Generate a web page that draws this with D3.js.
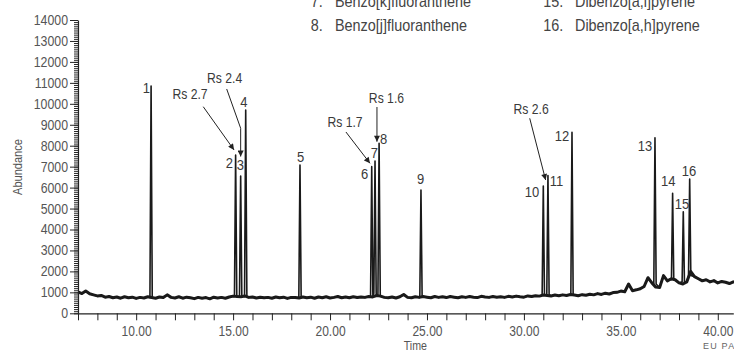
<!DOCTYPE html>
<html>
<head>
<meta charset="utf-8">
<script src="https://cdn.jsdelivr.net/npm/d3@7/dist/d3.min.js"></script>
<style>
  html, body { margin: 0; padding: 0; background: #fff; }
  svg { display: block; }
  text { font-family: "Liberation Sans", Arial, sans-serif; }
</style>
</head>
<body>
<div id="chart"></div>
<script>
// chromatogram baseline, sampled every 0.2 min starting at 7.0 min (abundance)
const baseStart = 7.0;
const baseStep = 0.2;
const baseline = [
  1020, 940, 1060, 930, 880, 830, 850, 770, 800, 740,
  780, 720, 790, 740, 770, 710, 760, 730, 790, 750,
  720, 780, 750, 880, 760, 730, 790, 720, 770, 740,
  700, 760, 720, 750, 690, 770, 730, 760, 720, 780,
  820, 800, 790, 830, 760, 780, 730, 770, 740, 760,
  720, 780, 740, 770, 710, 760, 750, 730, 780, 740,
  770, 720, 780, 740, 790, 730, 760, 800, 740, 780,
  740, 790, 750, 780, 760, 800, 780, 850, 820, 760,
  740, 780, 730, 790, 900, 760, 740, 790, 760, 800,
  770, 740, 800, 760, 790, 750, 800, 770, 740, 790,
  760, 800, 770, 750, 810, 780, 760, 800, 770, 790,
  760, 810, 780, 820, 790, 770, 830, 800, 840, 820,
  870, 850, 830, 870, 840, 880, 850, 900, 870, 840,
  890, 860, 910, 880, 940, 900, 960, 920, 990, 1000,
  1060, 1030, 1400, 1080, 1120, 1170, 1280, 1700, 1450, 1250,
  1230, 1800, 1550, 1650, 1600, 1450, 1400, 1500, 2000, 1750,
  1650, 1550, 1600, 1500, 1560, 1450, 1520, 1480, 1420, 1500,
  1460
];

// peaks
const peakNo    = [1, 2, 3, 4, 5, 6, 7, 8, 9, 10, 11, 12, 13, 14, 15, 16];
const peakTime  = [10.77, 15.13, 15.39, 15.65, 18.45, 22.15, 22.32, 22.53, 24.69, 31.0, 31.24, 32.48, 36.76, 37.67, 38.22, 38.55];
const peakTop   = [10850, 7556, 6554, 9704, 7079, 7000, 7270, 8115, 5885, 6076, 6580, 8640, 8382, 5728, 4850, 6411];
const peakFoot  = [750, 800, 820, 800, 750, 780, 950, 900, 780, 860, 900, 880, 1400, 1600, 1500, 1800];
const labelTime = [10.53, 14.81, 15.38, 15.56, 18.48, 21.78, 22.29, 22.76, 24.67, 30.42, 31.68, 31.97, 36.25, 37.44, 38.15, 38.52];
const labelVal  = [10754, 7174, 7079, 10086, 7461, 6673, 7675, 8320, 6411, 5790, 6315, 8463, 7986, 6315, 5217, 6793];

// resolution annotations
const rsText     = ["Rs 2.7", "Rs 2.4", "Rs 1.7", "Rs 1.6", "Rs 2.6"];
const rsTextTime = [12.78, 14.56, 20.77, 22.91, 30.37];
const rsTextVal  = [10444, 11208, 9107, 10277, 9728];
const rsArrows = [
  [[13.46, 9862], [15.05, 7795]],
  [[14.67, 10707], [15.39, 8831], [15.39, 7484]],
  [[20.82, 8654], [22.06, 7160]],
  [[22.42, 9847], [22.42, 8191]],
  [[30.30, 9308], [31.12, 6363]]
];

// legend fragment (top of figure, clipped)
const legendNo   = ["7.", "8.", "15.", "16."];
const legendName = ["Benzo[k]fluoranthene", "Benzo[j]fluoranthene", "Dibenzo[a,i]pyrene", "Dibenzo[a,h]pyrene"];

// axes
const yMajorTicks = [0, 1000, 2000, 3000, 4000, 5000, 6000, 7000, 8000, 9000, 10000, 11000, 12000, 13000, 14000];
const yMinorTicks = d3.range(0, 14001, 100);
const xTicks = d3.range(7, 41, 1);
const xLabelTicks = [10, 15, 20, 25, 30, 35, 40];

const width = 734, height = 352;
const svg = d3.select("#chart").append("svg")
  .attr("width", width).attr("height", height);

const x = d3.scaleLinear().domain([7, 40.8]).range([78, 733.3]);
const y = d3.scaleLinear().domain([0, 14000]).range([313.3, 20]);

// squeeze text horizontally to mimic the condensed typeface
function condense(sel, s) {
  sel.each(function () {
    const t = d3.select(this);
    const ax = +t.attr("x") || 0;
    t.attr("transform", `translate(${ax},0) scale(${s},1) translate(${-ax},0)`);
  });
}

// build trace
const halfW = 0.06;
const baseSeries = baseline.map((v, i) => [baseStart + i * baseStep, v]);
let trace = baseSeries.filter(d => !peakTime.some(p => Math.abs(p - d[0]) <= halfW + 0.005));
peakTime.forEach((t, i) => {
  trace.push([t - halfW, peakFoot[i]]);
  trace.push([t, peakTop[i]]);
  trace.push([t + halfW, peakFoot[i]]);
});
trace.sort((a, b) => a[0] - b[0]);

const line = d3.line().x(d => x(d[0])).y(d => y(d[1]));

// noisy baseline band
svg.append("path")
  .datum(baseSeries)
  .attr("d", line)
  .attr("fill", "none")
  .attr("stroke", "#1a1a1a")
  .attr("stroke-width", 3)
  .attr("stroke-linejoin", "round");

svg.append("path")
  .datum(trace)
  .attr("d", line)
  .attr("fill", "none")
  .attr("stroke", "#1a1a1a")
  .attr("stroke-width", 1.6)
  .attr("stroke-linejoin", "round");

// y axis minor + major
svg.append("g")
  .attr("transform", "translate(78,0)")
  .call(d3.axisLeft(y).tickValues(yMinorTicks).tickSize(4).tickSizeOuter(0).tickFormat(""))
  .call(g => g.select(".domain").remove())
  .call(g => g.selectAll("line").attr("stroke", "#222"));

svg.append("g")
  .attr("transform", "translate(78,0)")
  .call(d3.axisLeft(y).tickValues(yMajorTicks).tickSize(8).tickSizeOuter(0).tickPadding(2).tickFormat(d3.format("d")))
  .call(g => g.select(".domain").attr("stroke", "#222").attr("stroke-width", 1.2))
  .call(g => g.selectAll("line").attr("stroke", "#222"))
  .call(g => g.selectAll("text")
    .attr("fill", "#555")
    .style("font-size", "14px")
    .call(condense, 0.88));

// x axis
svg.append("g")
  .attr("transform", "translate(0,313.3)")
  .call(d3.axisBottom(x).tickValues(xTicks).tickSize(7).tickSizeOuter(0)
    .tickFormat(d => xLabelTicks.includes(d) ? d3.format(".2f")(d) : ""))
  .call(g => g.select(".domain").attr("stroke", "#222").attr("stroke-width", 1.2))
  .call(g => g.selectAll("line").attr("stroke", "#222"))
  .call(g => g.selectAll("text")
    .attr("fill", "#555")
    .attr("dy", "0.93em")
    .style("font-size", "14px")
    .call(condense, 0.86));

// axis titles
svg.append("text")
  .attr("transform", "translate(18,167) rotate(-90) scale(0.85,1)")
  .attr("text-anchor", "middle")
  .attr("dominant-baseline", "central")
  .attr("fill", "#555")
  .style("font-size", "13px")
  .text("Abundance");

svg.append("text")
  .attr("x", x(24.4)).attr("y", 350)
  .attr("text-anchor", "middle")
  .attr("fill", "#555")
  .style("font-size", "12.5px")
  .text("Time")
  .call(condense, 0.85);

svg.append("text")
  .attr("x", 703).attr("y", 349)
  .attr("fill", "#666")
  .style("font-size", "9px")
  .style("letter-spacing", "1.2px")
  .text("EU PAHs");

// peak labels
svg.append("g").selectAll("text")
  .data(peakNo)
  .join("text")
  .attr("x", (d, i) => x(labelTime[i]))
  .attr("y", (d, i) => y(labelVal[i]))
  .attr("text-anchor", "middle")
  .attr("dominant-baseline", "central")
  .attr("fill", "#3a3a3a")
  .style("font-size", "15.5px")
  .text(d => d)
  .call(condense, 0.84);

// resolution annotations
svg.append("defs").append("marker")
  .attr("id", "arrow")
  .attr("viewBox", "0 0 10 10")
  .attr("refX", 10).attr("refY", 5)
  .attr("markerUnits", "userSpaceOnUse")
  .attr("markerWidth", 7).attr("markerHeight", 6)
  .attr("orient", "auto")
  .append("path")
  .attr("d", "M0,0 L10,5 L0,10 Z")
  .attr("fill", "#222");

svg.append("g").selectAll("path")
  .data(rsArrows)
  .join("path")
  .attr("d", line)
  .attr("fill", "none")
  .attr("stroke", "#222")
  .attr("stroke-width", 1)
  .attr("marker-end", "url(#arrow)");

svg.append("g").selectAll("text")
  .data(rsText)
  .join("text")
  .attr("x", (d, i) => x(rsTextTime[i]))
  .attr("y", (d, i) => y(rsTextVal[i]))
  .attr("text-anchor", "middle")
  .attr("dominant-baseline", "central")
  .attr("fill", "#3a3a3a")
  .style("font-size", "14.5px")
  .text(d => d)
  .call(condense, 0.84);

// legend fragment
const legX = [310.7, 310.7, 543.3, 543.3];
const legNameX = [335, 335, 575, 575];
const legY = [6.7, 30.7, 6.7, 30.7];
const leg = svg.append("g");
legendNo.forEach((n, i) => {
  leg.append("text")
    .attr("x", legX[i]).attr("y", legY[i])
    .attr("fill", "#444")
    .style("font-size", "16px")
    .text(n)
    .call(condense, 0.9);
  leg.append("text")
    .attr("x", legNameX[i]).attr("y", legY[i])
    .attr("fill", "#444")
    .style("font-size", "16px")
    .text(legendName[i])
    .call(condense, 0.9);
});
</script>
</body>
</html>
